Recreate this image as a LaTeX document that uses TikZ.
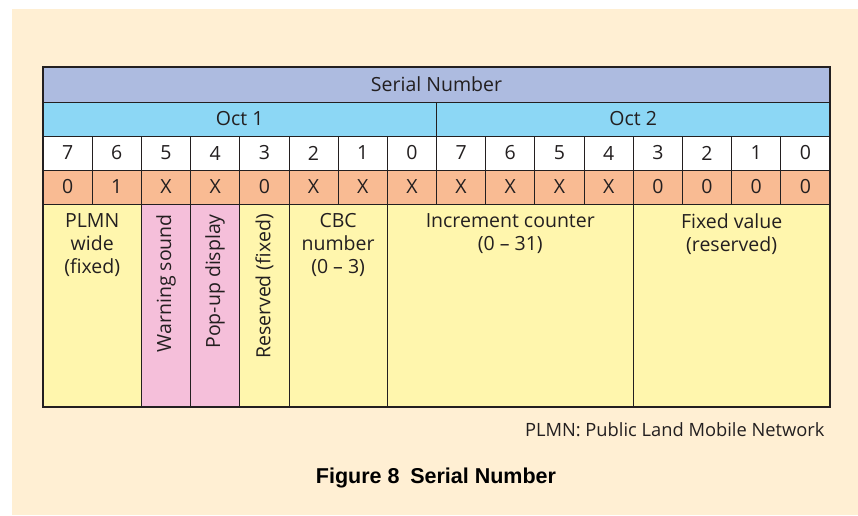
\documentclass[tikz,border=0pt]{standalone}
\usepackage{fontspec}
\newfontfamily\tabfont{Open Sans}
\newfontfamily\capfont{Liberation Sans}
\usetikzlibrary{positioning}

\definecolor{bgbeige}{HTML}{FFEFD3}
\definecolor{serialblue}{HTML}{ADBBE0}
\definecolor{octblue}{HTML}{8CD7F5}
\definecolor{valorange}{HTML}{F9BB93}
\definecolor{descyellow}{HTML}{FFF6AD}
\definecolor{descpink}{HTML}{F5BFDA}
\definecolor{inkgray}{HTML}{231F20}

\newcommand{\colw}{49.1875}

\begin{document}
\begin{tikzpicture}[x=1pt,y=-1pt,
    every node/.style={font=\tabfont\fontsize{19.5}{23}\selectfont, text=inkgray},
    cell/.style={draw=inkgray, line width=0.8pt, inner sep=0pt, outer sep=0pt, minimum height=34pt},
    bitcell/.style={cell, minimum width=\colw pt, fill=white},
    valcell/.style={cell, minimum width=\colw pt, fill=valorange},
    desccell/.style={cell, minimum height=203pt, anchor=north west},
    desctext/.style={align=center, anchor=north, inner sep=0pt},
    sidetext/.style={rotate=90, anchor=east, inner sep=0pt}]

  \useasboundingbox (0,0) rectangle (858,515);
  \fill[bgbeige] (12,9) rectangle (858,515);

  % header rows
  \node[cell, fill=serialblue, minimum width=787pt, minimum height=35pt] (serial) at (436.5,84.5) {Serial Number};
  \node[cell, fill=octblue, minimum width=393.5pt, anchor=north west] (oct1) at (43,102) {Oct 1};
  \node[cell, fill=octblue, minimum width=393.5pt, right=0pt of oct1] (oct2) {Oct 2};

  % bit numbers and values
  \foreach \b [count=\i from 0] in {7,6,5,4,3,2,1,0,7,6,5,4,3,2,1,0}
    \node[bitcell] (bit\i) at ({43+(\i+0.5)*\colw},153) {\b};
  \foreach \v [count=\i from 0] in {0,1,X,X,0,X,X,X,X,X,X,X,0,0,0,0}
    \node[valcell, below=0pt of bit\i] (val\i) {\v};

  % description cells
  \foreach \s/\n/\c [count=\k] in {0/2/descyellow, 2/1/descpink, 3/1/descpink, 4/1/descyellow,
                                   5/2/descyellow, 7/5/descyellow, 12/4/descyellow}
    \node[desccell, fill=\c, minimum width={\n*\colw pt}] (desc\k) at ({43+\s*\colw},204) {};

  \node[desctext] (plmn) at ([yshift=-9pt]desc1.north) {PLMN\\wide\\(fixed)};
  \node[sidetext] (warn) at ([yshift=-10pt]desc2.north) {Warning sound};
  \node[sidetext] (popup) at ([yshift=-10pt]desc3.north) {Pop-up display};
  \node[sidetext] (resv) at ([yshift=-10pt]desc4.north) {Reserved (fixed)};
  \node[desctext] (cbc) at ([yshift=-9pt]desc5.north) {CBC\\number\\(0 – 3)};
  \node[desctext] (incr) at ([yshift=-9pt]desc6.north) {Increment counter\\(0 – 31)};
  \node[desctext] (fixv) at ([yshift=-9pt]desc7.north) {Fixed value\\(reserved)};

  % outer frame
  \draw[inkgray, line width=2.2pt] (serial.north west) rectangle (desc7.south east);

  \node[anchor=east, font=\tabfont\fontsize{18.3}{22}\selectfont] (note) at (828,430) {PLMN: Public Land Mobile Network};
  \node[font=\capfont\bfseries\fontsize{21.5}{24}\selectfont, text=black] (caption) at (436,478) {Figure 8\enspace Serial Number};
\end{tikzpicture}
\end{document}
